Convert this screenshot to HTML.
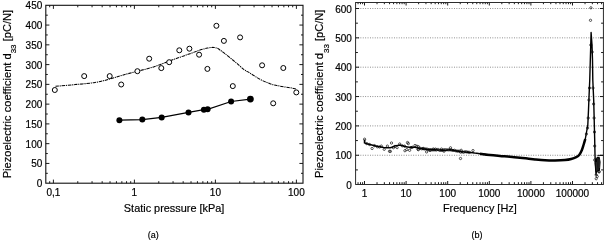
<!DOCTYPE html>
<html><head><meta charset="utf-8"><style>
html,body{margin:0;padding:0;background:#fff;width:606px;height:241px;overflow:hidden}
svg{display:block;will-change:transform}

</style></head><body>
<svg width="606" height="241" viewBox="0 0 606 241">
<rect width="606" height="241" fill="#fff"/>
<path d="M49.69 183.2v-2M49.69 5.3v2M53.4 183.2v-3.6M53.4 5.3v3.6M77.78 183.2v-2M77.78 5.3v2M92.05 183.2v-2M92.05 5.3v2M102.17 183.2v-2M102.17 5.3v2M110.02 183.2v-2M110.02 5.3v2M116.43 183.2v-2M116.43 5.3v2M121.85 183.2v-2M121.85 5.3v2M126.55 183.2v-2M126.55 5.3v2M130.69 183.2v-2M130.69 5.3v2M134.4 183.2v-3.6M134.4 5.3v3.6M158.78 183.2v-2M158.78 5.3v2M173.05 183.2v-2M173.05 5.3v2M183.17 183.2v-2M183.17 5.3v2M191.02 183.2v-2M191.02 5.3v2M197.43 183.2v-2M197.43 5.3v2M202.85 183.2v-2M202.85 5.3v2M207.55 183.2v-2M207.55 5.3v2M211.69 183.2v-2M211.69 5.3v2M215.4 183.2v-3.6M215.4 5.3v3.6M239.78 183.2v-2M239.78 5.3v2M254.05 183.2v-2M254.05 5.3v2M264.17 183.2v-2M264.17 5.3v2M272.02 183.2v-2M272.02 5.3v2M278.43 183.2v-2M278.43 5.3v2M283.85 183.2v-2M283.85 5.3v2M288.55 183.2v-2M288.55 5.3v2M292.69 183.2v-2M292.69 5.3v2M296.4 183.2v-3.6M296.4 5.3v3.6M45.8 173.32h2M303 173.32h-2M45.8 163.43h3.6M303 163.43h-3.6M45.8 153.55h2M303 153.55h-2M45.8 143.67h3.6M303 143.67h-3.6M45.8 133.78h2M303 133.78h-2M45.8 123.9h3.6M303 123.9h-3.6M45.8 114.02h2M303 114.02h-2M45.8 104.13h3.6M303 104.13h-3.6M45.8 94.25h2M303 94.25h-2M45.8 84.37h3.6M303 84.37h-3.6M45.8 74.48h2M303 74.48h-2M45.8 64.6h3.6M303 64.6h-3.6M45.8 54.72h2M303 54.72h-2M45.8 44.83h3.6M303 44.83h-3.6M45.8 34.95h2M303 34.95h-2M45.8 25.07h3.6M303 25.07h-3.6M45.8 15.18h2M303 15.18h-2" stroke="#000" stroke-width="0.9" fill="none"/>
<rect x="45.8" y="5.3" width="257.2" height="177.9" fill="none" stroke="#111" stroke-width="1.1"/>
<g font-family='"Liberation Sans", sans-serif' font-size="10" fill="#000" stroke="#000" stroke-width="0.18"><text x="42.3" y="187.2" text-anchor="end">0</text><text x="42.3" y="167.43" text-anchor="end">50</text><text x="42.3" y="147.67" text-anchor="end">100</text><text x="42.3" y="127.9" text-anchor="end">150</text><text x="42.3" y="108.13" text-anchor="end">200</text><text x="42.3" y="88.37" text-anchor="end">250</text><text x="42.3" y="68.6" text-anchor="end">300</text><text x="42.3" y="48.83" text-anchor="end">350</text><text x="42.3" y="29.07" text-anchor="end">400</text><text x="42.3" y="9.3" text-anchor="end">450</text><text x="53.4" y="195.8" text-anchor="middle">0,1</text><text x="134.4" y="195.8" text-anchor="middle">1</text><text x="215.4" y="195.8" text-anchor="middle">10</text><text x="296.4" y="195.8" text-anchor="middle">100</text></g>
<path d="M55.5 86.3C58.75 86.02 68.42 85.23 75 84.6C81.58 83.97 89.17 83.43 95 82.5C100.83 81.57 105.42 80.22 110 79C114.58 77.78 117.92 76.5 122.5 75.2C127.08 73.9 132.3 72.58 137.5 71.2C142.7 69.82 148.28 68.63 153.7 66.9C159.12 65.17 165.62 62.42 170 60.8C174.38 59.18 176.67 58.38 180 57.2C183.33 56.02 186.67 54.9 190 53.7C193.33 52.5 197.08 50.93 200 50C202.92 49.07 205.25 48.53 207.5 48.1C209.75 47.67 211.83 47.37 213.5 47.4C215.17 47.43 216.42 47.87 217.5 48.3C218.58 48.73 218.75 49.1 220 50C221.25 50.9 222.5 51.73 225 53.7C227.5 55.67 231.88 59.2 235 61.8C238.12 64.4 241.2 67.42 243.7 69.3C246.2 71.18 247.28 71.43 250 73.1C252.72 74.77 256.67 77.53 260 79.3C263.33 81.07 266.67 82.55 270 83.7C273.33 84.85 276.67 85.53 280 86.2C283.33 86.87 287.33 87.23 290 87.7C292.67 88.17 295 88.78 296 89" stroke="#000" stroke-width="1.05" fill="none" stroke-dasharray="3.4 0.8 1.2 0.8"/>
<g fill="#fff" stroke="#000" stroke-width="1"><circle cx="54.8" cy="90" r="2.5"/><circle cx="84.2" cy="76.1" r="2.5"/><circle cx="109.7" cy="76.1" r="2.5"/><circle cx="121.2" cy="84.5" r="2.5"/><circle cx="137.4" cy="71.2" r="2.5"/><circle cx="149.2" cy="58.7" r="2.5"/><circle cx="161.3" cy="68.1" r="2.5"/><circle cx="169.2" cy="62.2" r="2.5"/><circle cx="179.3" cy="50.3" r="2.5"/><circle cx="189.4" cy="48.7" r="2.5"/><circle cx="199.1" cy="54.7" r="2.5"/><circle cx="207.4" cy="68.9" r="2.5"/><circle cx="216.4" cy="25.8" r="2.5"/><circle cx="223.9" cy="40.9" r="2.5"/><circle cx="232.8" cy="86.1" r="2.5"/><circle cx="240.1" cy="37.4" r="2.5"/><circle cx="262.1" cy="65.3" r="2.5"/><circle cx="273.2" cy="103.3" r="2.5"/><circle cx="283.3" cy="68" r="2.5"/><circle cx="296.3" cy="92.4" r="2.5"/></g>
<polyline points="119.4,120.2 142.3,119.6 161.7,117.4 188.5,112.4 203.9,109.7 207.6,109.3 231.1,101.5 250.4,99.1" stroke="#000" stroke-width="1.2" fill="none"/>
<g fill="#000"><circle cx="119.4" cy="120.2" r="3"/><circle cx="142.3" cy="119.6" r="3"/><circle cx="161.7" cy="117.4" r="3"/><circle cx="188.5" cy="112.4" r="3"/><circle cx="203.9" cy="109.7" r="3"/><circle cx="207.6" cy="109.3" r="3"/><circle cx="231.1" cy="101.5" r="3"/><circle cx="250.4" cy="99.1" r="3.4"/></g>
<path d="M355.6 155.25H603.4M355.6 125.9H603.4M355.6 96.55H603.4M355.6 67.2H603.4M355.6 37.85H603.4M355.6 8.5H603.4" stroke="#666" stroke-width="0.8" stroke-dasharray="0.9 1.5" fill="none"/>
<path d="M358.06 184.5v-2.3M358.06 2.5v1.7M360.47 184.5v-2.3M360.47 2.5v1.7M362.6 184.5v-2.3M362.6 2.5v1.7M364.5 184.5v-3.5M364.5 2.5v3M377.02 184.5v-2.3M377.02 2.5v1.7M384.35 184.5v-2.3M384.35 2.5v1.7M389.55 184.5v-2.3M389.55 2.5v1.7M393.58 184.5v-2.3M393.58 2.5v1.7M396.87 184.5v-2.3M396.87 2.5v1.7M399.66 184.5v-2.3M399.66 2.5v1.7M402.07 184.5v-2.3M402.07 2.5v1.7M404.2 184.5v-2.3M404.2 2.5v1.7M406.1 184.5v-3.5M406.1 2.5v3M418.62 184.5v-2.3M418.62 2.5v1.7M425.95 184.5v-2.3M425.95 2.5v1.7M431.15 184.5v-2.3M431.15 2.5v1.7M435.18 184.5v-2.3M435.18 2.5v1.7M438.47 184.5v-2.3M438.47 2.5v1.7M441.26 184.5v-2.3M441.26 2.5v1.7M443.67 184.5v-2.3M443.67 2.5v1.7M445.8 184.5v-2.3M445.8 2.5v1.7M447.7 184.5v-3.5M447.7 2.5v3M460.22 184.5v-2.3M460.22 2.5v1.7M467.55 184.5v-2.3M467.55 2.5v1.7M472.75 184.5v-2.3M472.75 2.5v1.7M476.78 184.5v-2.3M476.78 2.5v1.7M480.07 184.5v-2.3M480.07 2.5v1.7M482.86 184.5v-2.3M482.86 2.5v1.7M485.27 184.5v-2.3M485.27 2.5v1.7M487.4 184.5v-2.3M487.4 2.5v1.7M489.3 184.5v-3.5M489.3 2.5v3M501.82 184.5v-2.3M501.82 2.5v1.7M509.15 184.5v-2.3M509.15 2.5v1.7M514.35 184.5v-2.3M514.35 2.5v1.7M518.38 184.5v-2.3M518.38 2.5v1.7M521.67 184.5v-2.3M521.67 2.5v1.7M524.46 184.5v-2.3M524.46 2.5v1.7M526.87 184.5v-2.3M526.87 2.5v1.7M529 184.5v-2.3M529 2.5v1.7M530.9 184.5v-3.5M530.9 2.5v3M543.42 184.5v-2.3M543.42 2.5v1.7M550.75 184.5v-2.3M550.75 2.5v1.7M555.95 184.5v-2.3M555.95 2.5v1.7M559.98 184.5v-2.3M559.98 2.5v1.7M563.27 184.5v-2.3M563.27 2.5v1.7M566.06 184.5v-2.3M566.06 2.5v1.7M568.47 184.5v-2.3M568.47 2.5v1.7M570.6 184.5v-2.3M570.6 2.5v1.7M572.5 184.5v-3.5M572.5 2.5v3M585.02 184.5v-2.3M585.02 2.5v1.7M592.35 184.5v-2.3M592.35 2.5v1.7M597.55 184.5v-2.3M597.55 2.5v1.7M601.58 184.5v-2.3M601.58 2.5v1.7M355.6 169.92h2.3M603.4 169.92h-2.3M355.6 155.25h3.5M603.4 155.25h-3.5M355.6 140.57h2.3M603.4 140.57h-2.3M355.6 125.9h3.5M603.4 125.9h-3.5M355.6 111.22h2.3M603.4 111.22h-2.3M355.6 96.55h3.5M603.4 96.55h-3.5M355.6 81.88h2.3M603.4 81.88h-2.3M355.6 67.2h3.5M603.4 67.2h-3.5M355.6 52.53h2.3M603.4 52.53h-2.3M355.6 37.85h3.5M603.4 37.85h-3.5M355.6 23.18h2.3M603.4 23.18h-2.3M355.6 8.5h3.5M603.4 8.5h-3.5" stroke="#000" stroke-width="0.9" fill="none"/>
<rect x="355.6" y="2.5" width="247.8" height="182" fill="none" stroke="#222" stroke-width="0.95"/>
<g font-family='"Liberation Sans", sans-serif' font-size="10" fill="#000" stroke="#000" stroke-width="0.18"><text x="351.9" y="188.8" text-anchor="end">0</text><text x="351.9" y="159.45" text-anchor="end">100</text><text x="351.9" y="130.1" text-anchor="end">200</text><text x="351.9" y="100.75" text-anchor="end">300</text><text x="351.9" y="71.4" text-anchor="end">400</text><text x="351.9" y="42.05" text-anchor="end">500</text><text x="351.9" y="12.7" text-anchor="end">600</text><text x="364.5" y="196.9" text-anchor="middle">1</text><text x="406.1" y="196.9" text-anchor="middle">10</text><text x="447.7" y="196.9" text-anchor="middle">100</text><text x="489.3" y="196.9" text-anchor="middle">1000</text><text x="530.9" y="196.9" text-anchor="middle">10000</text><text x="572.5" y="196.9" text-anchor="middle">100000</text></g>
<path d="M364.6 139.6V143.4" stroke="#000" stroke-width="1.7" fill="none"/>
<path d="M364.6 143.2C365.08 143.32 366.27 143.6 367.5 143.9C368.73 144.2 370.43 144.6 372 145C373.57 145.4 374.83 145.87 376.9 146.3C378.97 146.73 382.43 147.35 384.4 147.6C386.37 147.85 387.45 147.87 388.7 147.8C389.95 147.73 390.68 147.57 391.9 147.2C393.12 146.83 394.58 145.93 396 145.6C397.42 145.27 398.92 145.05 400.4 145.2C401.88 145.35 403.4 146.15 404.9 146.5C406.4 146.85 407.78 147.17 409.4 147.3C411.02 147.43 413.17 147.18 414.6 147.3C416.03 147.42 416.18 147.68 418 148C419.82 148.32 423.02 148.92 425.5 149.2C427.98 149.48 430.42 149.55 432.9 149.7C435.38 149.85 438.38 149.98 440.4 150.1C442.42 150.22 443.4 150.45 445 150.4C446.6 150.35 448.33 149.77 450 149.8C451.67 149.83 453.33 150.32 455 150.6C456.67 150.88 457.92 151.23 460 151.5C462.08 151.77 465 151.93 467.5 152.2C470 152.47 472.92 152.85 475 153.1C477.08 153.35 477.5 153.38 480 153.7C482.5 154.02 488.33 154.78 490 155" stroke="#000" stroke-width="1.45" fill="none" stroke-linejoin="round"/>
<path d="M480 153.7C481.67 153.92 486.67 154.63 490 155C493.33 155.37 496.67 155.62 500 155.9C503.33 156.18 506.67 156.4 510 156.7C513.33 157 516.88 157.37 520 157.7C523.12 158.03 526.2 158.42 528.7 158.7C531.2 158.98 532.28 159.15 535 159.4C537.72 159.65 541.67 160.03 545 160.2C548.33 160.37 551.67 160.43 555 160.4C558.33 160.37 562.3 160.23 565 160C567.7 159.77 569.33 159.47 571.2 159C573.07 158.53 574.83 157.92 576.2 157.2C577.57 156.48 578.45 155.9 579.4 154.7C580.35 153.5 581.18 151.7 581.9 150C582.62 148.3 583.13 146.33 583.7 144.5C584.27 142.67 585.03 139.92 585.3 139" stroke="#000" stroke-width="2.5" fill="none" stroke-linejoin="round"/>
<polyline points="585.3,139 587.8,125 588.5,110 589.1,95 589.75,80 590.6,50 591.1,32.5 592,45 592.5,60 592.8,80 593.7,100 594.2,120 594.7,140 595,155 595.5,166 596.1,175" stroke="#000" stroke-width="1.4" fill="none" stroke-linejoin="round"/>
<path d="M597.3 155.4H603" stroke="#000" stroke-width="0.9" fill="none"/>
<path d="M597 156.7L599.6 156.7L600.6 162L600.0 170L599.2 171L597.6 171.6L596.6 173.6L595.6 172L594.6 163L595.2 160Z" fill="#050505"/>
<path d="M596.2 162L596.9 171M597.8 158L598.1 170M599.2 159L599.4 168" stroke="#fff" stroke-opacity="0.45" stroke-width="0.35" fill="none"/>
<g fill="none" stroke="#000" stroke-width="0.65"><circle cx="364.6" cy="139.2" r="1.15"/><circle cx="372.1" cy="148.5" r="1.15"/><circle cx="377.3" cy="146.8" r="1.15"/><circle cx="381.3" cy="146.1" r="1.15"/><circle cx="384.2" cy="149.3" r="1.15"/><circle cx="387.4" cy="146.1" r="1.15"/><circle cx="389.5" cy="151.3" r="1.15"/><circle cx="391.5" cy="143" r="1.15"/><circle cx="393.4" cy="147.7" r="1.15"/><circle cx="397.1" cy="147.6" r="1.15"/><circle cx="399.7" cy="144" r="1.15"/><circle cx="402.3" cy="145.8" r="1.15"/><circle cx="404.6" cy="146.2" r="1.15"/><circle cx="404.9" cy="150.7" r="1.15"/><circle cx="407.5" cy="142.5" r="1.15"/><circle cx="408.3" cy="143.6" r="1.15"/><circle cx="406.8" cy="149.6" r="1.15"/><circle cx="409.6" cy="150.3" r="1.15"/><circle cx="412.4" cy="147.3" r="1.15"/><circle cx="415" cy="145.5" r="1.15"/><circle cx="416.9" cy="146.2" r="1.15"/><circle cx="418" cy="149.2" r="1.15"/><circle cx="390.4" cy="151.4" r="1.15"/><circle cx="418.4" cy="146.7" r="1.15"/><circle cx="418.4" cy="149.7" r="1.15"/><circle cx="426.6" cy="151.9" r="1.15"/><circle cx="423.2" cy="148.4" r="1.15"/><circle cx="433.3" cy="149" r="1.15"/><circle cx="435.5" cy="149.1" r="1.15"/><circle cx="441.5" cy="149.1" r="1.15"/><circle cx="450.5" cy="147.8" r="1.15"/><circle cx="460.5" cy="158.5" r="1.15"/><circle cx="473" cy="150.6" r="1.15"/><circle cx="461.2" cy="150.3" r="1.15"/><circle cx="444" cy="151.2" r="1.15"/><circle cx="366.8" cy="143.6" r="1.15"/><circle cx="369.5" cy="144.5" r="1.15"/><circle cx="374.5" cy="145.6" r="1.15"/><circle cx="379.5" cy="147" r="1.15"/><circle cx="395" cy="146.4" r="1.15"/><circle cx="411" cy="147.6" r="1.15"/><circle cx="430" cy="150.5" r="1.15"/><circle cx="420" cy="148.23" r="1.15"/><circle cx="421.5" cy="148.74" r="1.15"/><circle cx="423" cy="148.72" r="1.15"/><circle cx="424.5" cy="148.93" r="1.15"/><circle cx="426" cy="148.91" r="1.15"/><circle cx="427.5" cy="149.26" r="1.15"/><circle cx="429" cy="149.83" r="1.15"/><circle cx="430.5" cy="149.69" r="1.15"/><circle cx="432" cy="150" r="1.15"/><circle cx="433.5" cy="149.82" r="1.15"/><circle cx="435" cy="149.95" r="1.15"/><circle cx="436.5" cy="149.96" r="1.15"/><circle cx="438" cy="149.39" r="1.15"/><circle cx="439.5" cy="150.35" r="1.15"/><circle cx="441" cy="150.32" r="1.15"/><circle cx="442.5" cy="150.41" r="1.15"/><circle cx="444" cy="149.74" r="1.15"/><circle cx="445.5" cy="149.73" r="1.15"/><circle cx="447" cy="149.85" r="1.15"/><circle cx="448.5" cy="149.82" r="1.15"/><circle cx="450" cy="149.91" r="1.15"/><circle cx="451.5" cy="150.02" r="1.15"/><circle cx="453" cy="150.46" r="1.15"/><circle cx="454.5" cy="150.3" r="1.15"/><circle cx="456" cy="150.89" r="1.15"/><circle cx="457.5" cy="151.19" r="1.15"/><circle cx="459" cy="151.09" r="1.15"/><circle cx="460.5" cy="152.15" r="1.15"/><circle cx="462" cy="151.88" r="1.15"/><circle cx="463.5" cy="152.25" r="1.15"/><circle cx="465" cy="151.75" r="1.15"/><circle cx="466.5" cy="151.85" r="1.15"/><circle cx="468" cy="152.14" r="1.15"/><circle cx="469.5" cy="152.4" r="1.15"/><circle cx="589.5" cy="88" r="1.15"/><circle cx="588.9" cy="100" r="1.15"/><circle cx="588.2" cy="118" r="1.15"/><circle cx="587.6" cy="128" r="1.15"/><circle cx="586.4" cy="134" r="1.15"/><circle cx="593" cy="88" r="1.15"/><circle cx="593.6" cy="104" r="1.15"/><circle cx="594.1" cy="118" r="1.15"/><circle cx="594.5" cy="132" r="1.15"/><circle cx="594.7" cy="146" r="1.15"/><circle cx="594.7" cy="160" r="1.15"/><circle cx="590.8" cy="45" r="1.15"/><circle cx="592.2" cy="52" r="1.15"/><circle cx="596.2" cy="174.9" r="1.15"/><circle cx="599.1" cy="172" r="1.15"/><circle cx="596.2" cy="178.7" r="1.15"/><circle cx="590.9" cy="7.8" r="1.15"/><circle cx="590.5" cy="20.3" r="1.15"/><circle cx="599" cy="171.5" r="1.15"/><circle cx="597.2" cy="176.5" r="1.15"/></g>
<g font-family='"Liberation Sans", sans-serif' font-size="10.9" fill="#000" stroke="#000" stroke-width="0.18">
<text x="174.1" y="211.8" text-anchor="middle">Static pressure [kPa]</text>
<text x="479.8" y="212" text-anchor="middle">Frequency [Hz]</text>
<text font-size="11.1" transform="translate(10.6 94.1) rotate(-90)" text-anchor="middle">Piezoelectric coefficient d<tspan font-size="8" dy="5.5">33</tspan><tspan dy="-5.5"> [pC/N]</tspan></text>
<text font-size="11.1" transform="translate(323.1 93.8) rotate(-90)" text-anchor="middle">Piezoelectric coefficient d<tspan font-size="8" dy="5.5">33</tspan><tspan dy="-5.5"> [pC/N]</tspan></text>
</g>
<g font-family='"Liberation Sans", sans-serif' font-size="9" fill="#000" stroke="#000" stroke-width="0.18">
<text x="153.2" y="237.9" text-anchor="middle">(a)</text>
<text x="477.1" y="237.9" text-anchor="middle">(b)</text>
</g>
</svg>
</body></html>
